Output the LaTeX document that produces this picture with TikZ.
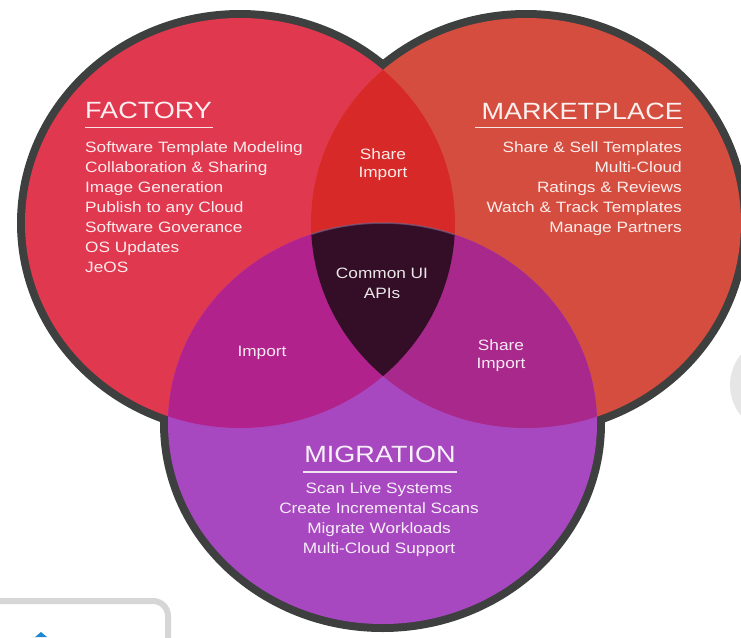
\documentclass[tikz,border=0pt]{standalone}
\usepackage{fontspec}
\newfontfamily\dgfont[FakeStretch=1.15]{Liberation Sans}
\definecolor{outl}{HTML}{3E4040}
\definecolor{facc}{HTML}{E0384F}
\definecolor{mktc}{HTML}{D54D3E}
\definecolor{migc}{HTML}{A848C0}
\definecolor{fmc}{HTML}{D72A28}
\definecolor{fgc}{HTML}{B2228C}
\definecolor{mgc}{HTML}{A8288C}
\definecolor{allc}{HTML}{340E26}
\definecolor{rimc}{HTML}{7A6A8A}
\definecolor{bggray}{HTML}{D6D6D6}
\definecolor{bglight}{HTML}{E6E6E6}
\definecolor{bgblue}{HTML}{1E88D0}
\tikzset{
  ttl/.style={text=white, text opacity=0.92, inner sep=0pt, font=\dgfont\fontsize{23.5}{26}\selectfont},
  itm/.style={text=white, text opacity=0.9, inner sep=0pt, font=\dgfont\fontsize{15}{18}\selectfont},
  uline/.style={draw=white, draw opacity=0.85, line width=1.8pt},
}
\begin{document}
\begin{tikzpicture}[x=1pt,y=-1pt]
\useasboundingbox (0,0) rectangle (741,637);
\clip (0,0) rectangle (741,637);
\fill[white] (0,0) rectangle (741,637);
% background remnants
\fill[bglight] (778,385) circle[radius=48pt];
\draw[bggray, line width=6pt, rounded corners=15pt] (-20,601) -- (168,601) -- (168,660);
\fill[bgblue] (35,637) -- (41,632) -- (47,637) -- cycle;
% outer outlines
\fill[outl] (240,223) ellipse [x radius=223pt, y radius=213pt];
\fill[outl] (526,223) ellipse [x radius=223pt, y radius=213pt];
\fill[outl] (382.5,423.5) ellipse [x radius=222.5pt, y radius=208.5pt];
% single fills
\fill[facc] (240,223) ellipse [x radius=215pt, y radius=205pt];
\fill[mktc] (526,223) ellipse [x radius=215pt, y radius=205pt];
\fill[migc] (382.5,423.5) ellipse [x radius=214.5pt, y radius=200.5pt];
% pairwise
\begin{scope}
  \clip (240,223) ellipse [x radius=215pt, y radius=205pt];
  \fill[fmc] (526,223) ellipse [x radius=215pt, y radius=205pt];
  \fill[fgc] (382.5,423.5) ellipse [x radius=214.5pt, y radius=200.5pt];
\end{scope}
\begin{scope}
  \clip (526,223) ellipse [x radius=215pt, y radius=205pt];
  \fill[mgc] (382.5,423.5) ellipse [x radius=214.5pt, y radius=200.5pt];
\end{scope}
% triple
\begin{scope}
  \clip (240,223) ellipse [x radius=215pt, y radius=205pt];
  \clip (526,223) ellipse [x radius=215pt, y radius=205pt];
  \fill[allc] (382.5,423.5) ellipse [x radius=214.5pt, y radius=200.5pt];
  \draw[rimc, line width=1.5pt, opacity=0.6] (382.5,423.5) ellipse [x radius=214.5pt, y radius=200.5pt];
\end{scope}
% FACTORY
\node[ttl, anchor=base west] (fac) at (85,118) {FACTORY};
\draw[uline] (85,127.5) -- (213,127.5);
\foreach \t [count=\i from 0] in {Software Template Modeling, Collaboration \& Sharing, Image Generation, Publish to any Cloud, Software Goverance, OS Updates, JeOS}
  \node[itm, anchor=base west] (fac\i) at (85,152+20.1*\i) {\t};
% MARKETPLACE
\node[ttl, anchor=base east] (mkt) at (683,119) {MARKETPLACE};
\draw[uline] (475,127.5) -- (683,127.5);
\foreach \t [count=\i from 0] in {Share \& Sell Templates, Multi-Cloud, Ratings \& Reviews, Watch \& Track Templates, Manage Partners}
  \node[itm, anchor=base east] (mkt\i) at (682,152+20.2*\i) {\t};
% MIGRATION
\node[ttl, anchor=base] (mig) at (380,462) {MIGRATION};
\draw[uline] (303,472) -- (457,472);
\foreach \t [count=\i from 0] in {Scan Live Systems, Create Incremental Scans, Migrate Workloads, Multi-Cloud Support}
  \node[itm, anchor=base] (mig\i) at (379,493+20*\i) {\t};
% overlaps
\node[itm, anchor=base] (fm1) at (383,159) {Share};
\node[itm, anchor=base] (fm2) at (383,177) {Import};
\node[itm, anchor=base] (all1) at (382,278) {Common UI};
\node[itm, anchor=base] (all2) at (382,298) {APIs};
\node[itm, anchor=base] (fg1) at (262,356) {Import};
\node[itm, anchor=base] (mg1) at (501,350) {Share};
\node[itm, anchor=base] (mg2) at (501,368) {Import};
\end{tikzpicture}
\end{document}
